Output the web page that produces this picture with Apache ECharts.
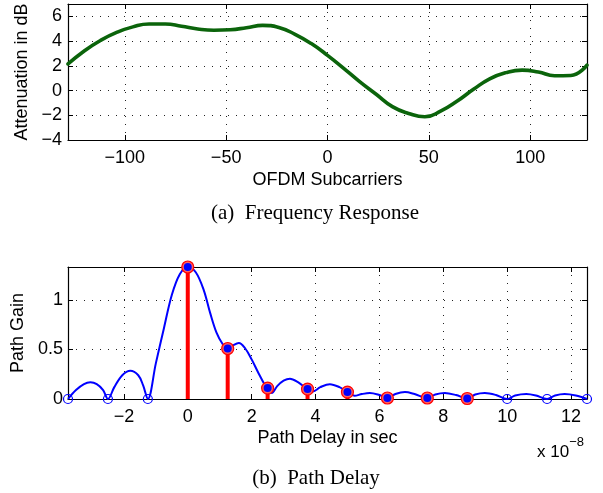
<!DOCTYPE html>
<html>
<head>
<meta charset="utf-8">
<script src="https://cdn.jsdelivr.net/npm/echarts@6/dist/echarts.min.js"></script>
<style>html,body{margin:0;padding:0;background:#fff;}#c{width:603px;height:493px;}</style>
</head>
<body>
<div id="c"></div>
<script>
// ---------- data ----------
const freqX = [-128,-120,-112,-104,-96,-88,-80,-72,-64,-56,-48,-40,-32,-24,-16,-8,0,8,16,24,32,40,48,56,64,72,80,88,96,104,112,120,128];
const freqAtt = [2.15,3.2,4.05,4.7,5.15,5.38,5.38,5.2,4.98,4.88,4.92,5.08,5.27,5.1,4.55,3.8,2.85,1.8,0.7,-0.3,-1.3,-1.85,-2.12,-1.65,-0.85,0.1,0.95,1.45,1.65,1.5,1.2,1.22,2.05];
const freqTicks = [-100,-50,0,50,100];
const attTicks = [-4,-2,0,2,4,6];

const delayX = [-3.75,-3.5,-3.25,-3.05,-2.85,-2.65,-2.5,-2.3,-2.05,-1.8,-1.55,-1.4,-1.25,-1.0,-0.75,-0.5,-0.25,0,0.25,0.5,0.7,0.9,1.1,1.25,1.4,1.6,1.8,2.0,2.2,2.4,2.5,2.63,2.8,3.0,3.2,3.45,3.75,3.92,4.15,4.45,4.75,5.0,5.22,5.45,5.7,6.0,6.25,6.5,6.8,7.1,7.5,7.75,8.05,8.4,8.75,9.0,9.3,9.65,10.0,10.25,10.6,10.9,11.25,11.5,11.8,12.15,12.5];
const delayGain = [0,0.09,0.15,0.168,0.15,0.09,0,0.12,0.24,0.285,0.24,0.14,0,0.36,0.71,1.05,1.26,1.333,1.28,1.10,0.87,0.67,0.55,0.51,0.54,0.566,0.51,0.40,0.27,0.15,0.11,0.06,0.13,0.185,0.205,0.17,0.10,0.077,0.12,0.15,0.12,0.07,0.033,0.05,0.06,0.04,0.01,0.05,0.07,0.05,0.01,0.045,0.06,0.04,0.005,0.045,0.06,0.04,0,0.035,0.05,0.035,0,0.035,0.05,0.035,0];
const pathDelays = [0,1.25,2.5,3.75,5,6.25,7.5,8.75];
const pathGains = [1.333,0.51,0.11,0.10,0.07,0.01,0.01,0.005];
const zeroDelays = [-3.75,-2.5,-1.25,10,11.25,12.5];
const zeroGains = [0,0,0,0,0,0];
const delayTicks = [-2,0,2,4,6,8,10,12];
const gainTicks = [0,0.5,1];

// ---------- chart ----------
const SANS = 'Liberation Sans, Arial, sans-serif';
const SERIF = 'Liberation Serif, Times New Roman, serif';
const fmt = v => (v < 0 ? '\u2212' + Math.abs(v) : String(v));
const grid = {lineStyle:{color:'#222', type:[1,7], width:1}};

function mainAxis(gi, min, max, ticks, extra) {
  return Object.assign({
    type:'value', gridIndex:gi, min:min, max:max,
    axisLine:{show:true, onZero:false, lineStyle:{color:'#000', width:1.2}},
    axisTick:{show:true, inside:true, length:5, customValues:ticks, lineStyle:{color:'#000'}},
    axisLabel:{show:true, customValues:ticks, formatter:fmt, color:'#000', fontSize:18, fontFamily:SANS},
    splitLine:Object.assign({show:true}, grid),
    nameTextStyle:{color:'#000', fontSize:18, fontFamily:SANS}
  }, extra);
}
function boxAxis(gi, min, max, ticks, pos) {
  return {
    type:'value', gridIndex:gi, min:min, max:max, position:pos,
    axisLine:{show:true, onZero:false, lineStyle:{color:'#000', width:1.2}},
    axisTick:{show:true, inside:true, length:5, customValues:ticks, lineStyle:{color:'#000'}},
    axisLabel:{show:false}, splitLine:{show:false}
  };
}

const option = {
  animation:false,
  backgroundColor:'#fff',
  grid:[
    {left:68, top:4, width:519, height:136},
    {left:68, top:267, width:519, height:132}
  ],
  xAxis:[
    mainAxis(0, -128, 128, freqTicks, {position:'bottom', name:'OFDM Subcarriers', nameLocation:'middle', nameGap:31, axisLabel:{customValues:freqTicks, formatter:fmt, color:'#000', fontSize:18, fontFamily:SANS, margin:9}}),
    boxAxis(0, -128, 128, freqTicks, 'top'),
    mainAxis(1, -3.75, 12.5, delayTicks, {position:'bottom', name:'Path Delay in sec', nameLocation:'middle', nameGap:30, axisLabel:{customValues:delayTicks, formatter:fmt, color:'#000', fontSize:18, fontFamily:SANS, margin:9}}),
    boxAxis(1, -3.75, 12.5, delayTicks, 'top')
  ],
  yAxis:[
    mainAxis(0, -4, 7, attTicks, {position:'left', name:'Attenuation in dB', nameLocation:'middle', nameGap:35, axisLabel:{customValues:attTicks, formatter:fmt, color:'#000', fontSize:18, fontFamily:SANS, margin:6}}),
    boxAxis(0, -4, 7, attTicks, 'right'),
    mainAxis(1, 0, 1.333, gainTicks, {position:'left', name:'Path Gain', nameLocation:'middle', nameGap:39, axisLabel:{customValues:gainTicks, formatter:fmt, color:'#000', fontSize:18, fontFamily:SANS, margin:5}}),
    boxAxis(1, 0, 1.333, gainTicks, 'right')
  ],
  series:[
    {type:'line', xAxisIndex:0, yAxisIndex:0, data:freqX.map((x,i)=>[x,freqAtt[i]]), smooth:true, showSymbol:false,
     lineStyle:{color:'#0b640b', width:3.6, cap:'round', join:'round'}, z:5},
    {type:'line', xAxisIndex:2, yAxisIndex:2, data:delayX.map((x,i)=>[x,delayGain[i]]), smooth:0.35, showSymbol:false,
     lineStyle:{color:'#0000ff', width:2}, z:5},
    {type:'bar', xAxisIndex:2, yAxisIndex:2, data:pathDelays.map((x,i)=>[x,pathGains[i]]), barWidth:4,
     itemStyle:{color:'#ff0000'}, z:4},
    {type:'scatter', xAxisIndex:2, yAxisIndex:2, data:pathDelays.map((x,i)=>[x,pathGains[i]]), symbol:'circle', symbolSize:12,
     itemStyle:{color:'#ff6060', borderColor:'#ff0000', borderWidth:1.2, opacity:1}, clip:false, z:6},
    {type:'scatter', xAxisIndex:2, yAxisIndex:2, data:pathDelays.map((x,i)=>[x,pathGains[i]]), symbol:'circle', symbolSize:8,
     itemStyle:{color:'#0000ff', opacity:1}, clip:false, z:7},
    {type:'scatter', xAxisIndex:2, yAxisIndex:2, data:zeroDelays.map((x,i)=>[x,zeroGains[i]]), symbol:'circle', symbolSize:9,
     itemStyle:{color:'rgba(0,0,0,0)', borderColor:'#0000ff', borderWidth:1.2, opacity:1}, clip:false, z:6}
  ],
  graphic:[
    {type:'text', left:537, top:436, style:{text:'{a|x 10}{b|\u22128}', rich:{a:{fontSize:17, fontFamily:SANS, fill:'#000', verticalAlign:'bottom'}, b:{fontSize:13, fontFamily:SANS, fill:'#000', padding:[0,0,12,0]}}}},
    {type:'text', x:315, y:213, style:{text:'(a)\u2002Frequency Response', fontSize:21, fontFamily:SERIF, fill:'#000', align:'center', verticalAlign:'middle'}},
    {type:'text', x:316, y:478, style:{text:'(b)\u2002Path Delay', fontSize:21, fontFamily:SERIF, fill:'#000', align:'center', verticalAlign:'middle'}}
  ]
};
const chart = echarts.init(document.getElementById('c'), null, {renderer:'canvas'});
chart.setOption(option);
</script>
</body>
</html>
